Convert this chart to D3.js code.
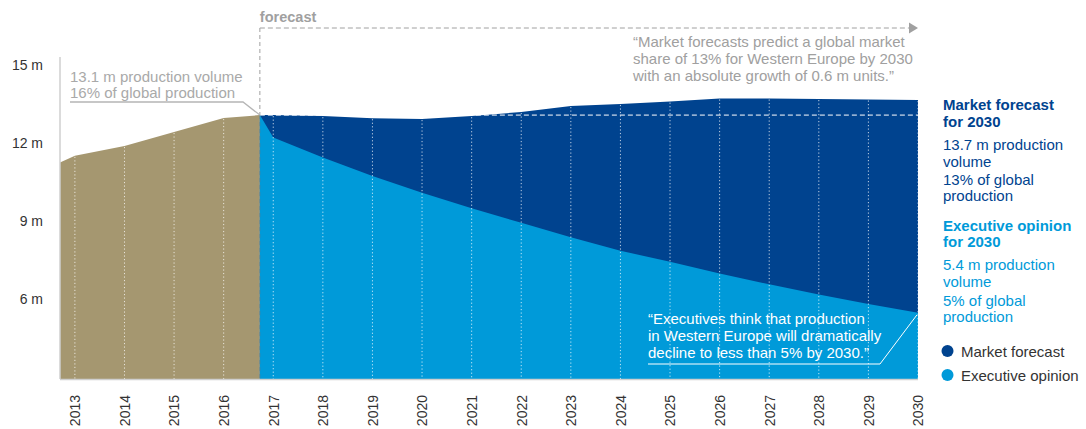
<!DOCTYPE html>
<html>
<head>
<meta charset="utf-8">
<script src="https://cdn.jsdelivr.net/npm/d3@7"></script>
<style>
  html, body { margin: 0; padding: 0; background: #fff; }
  svg { display: block; font-family: "Liberation Sans", Arial, sans-serif; }
</style>
</head>
<body>
<svg id="chart" width="1086" height="429"></svg>
<script>
// ---------- data ----------
const historyYears  = [2012.7, 2013, 2014, 2015, 2016, 2016.73];
const historyValues = [11.24, 11.5, 11.88, 12.42, 12.96, 13.07];

const forecastYears = [2016.73, 2017, 2018, 2019, 2020, 2021, 2022, 2023, 2024, 2025, 2026, 2027, 2028, 2029, 2030];
const marketValues  = [13.07, 13.07, 13.03, 12.95, 12.92, 13.03, 13.19, 13.42, 13.5, 13.59, 13.71, 13.71, 13.69, 13.67, 13.65];
const execValues    = [13.07, 12.21, 11.44, 10.72, 10.08, 9.48, 8.92, 8.36, 7.84, 7.42, 6.97, 6.55, 6.16, 5.79, 5.45];

const baseLevel = 13.07;          // 2016 level (13.1 m), dashed reference
const yearTicks = d3.range(2013, 2031);
const yTicks = [6, 9, 12, 15];

const topQuote = ["\u201CMarket forecasts predict a global market",
                  "share of 13% for Western Europe by 2030",
                  "with an absolute growth of 0.6 m units.\u201D"];
const execQuote = ["\u201CExecutives think that production",
                   "in Western Europe will dramatically",
                   "decline to less than 5% by 2030.\u201D"];
const histNote = ["13.1 m production volume", "16% of global production"];
const marketNote = ["13.7 m production", "volume", "13% of global", "production"];
const execNote = ["5.4 m production", "volume", "5% of global", "production"];
const legendItems = ["Market forecast", "Executive opinion"];

// ---------- styles ----------
const C = {
  brown: "#a59770",
  dark: "#00438f",
  light: "#009ad9",
  gray: "#a0a0a0",
  axis: "#cfcfcf",
  text: "#333333"
};

const svg = d3.select("#chart");
const x = d3.scaleLinear().domain([2012.7, 2030]).range([60, 918]);
const y = d3.scaleLinear().domain([2.9, 15]).range([379, 65]);
const y0 = y.range()[0];

const hist = historyYears.map((t, i) => ({t, v: historyValues[i]}));
const market = forecastYears.map((t, i) => ({t, v: marketValues[i]}));
const exec = forecastYears.map((t, i) => ({t, v: execValues[i]}));

const area = d3.area().x(d => x(d.t)).y0(y0).y1(d => y(d.v));

svg.append("path").datum(hist).attr("d", area).attr("fill", C.brown);
svg.append("path").datum(market).attr("d", area).attr("fill", C.dark);
svg.append("path").datum(exec).attr("d", area).attr("fill", C.light);

// dotted year gridlines, clipped to the area top
const topAt = t => {
  const h = hist.find(d => d.t === t);
  if (h) return h.v;
  const m = market.find(d => d.t === t);
  return m ? m.v : null;
};
svg.append("g").selectAll("line").data(yearTicks).join("line")
  .attr("x1", d => x(d)).attr("x2", d => x(d))
  .attr("y1", d => y(topAt(d)) + 1).attr("y2", y0)
  .attr("stroke", "#fff").attr("stroke-opacity", 0.75)
  .attr("stroke-width", 1).attr("stroke-dasharray", "1.2,2.3");

// white dashed reference line at the 2016 level
svg.append("line")
  .attr("x1", x(forecastYears[0])).attr("x2", x(2030))
  .attr("y1", y(baseLevel)).attr("y2", y(baseLevel))
  .attr("stroke", "#fff").attr("stroke-width", 1).attr("stroke-dasharray", "5,3");

// axis lines
svg.append("line").attr("x1", 60).attr("x2", 60).attr("y1", 57).attr("y2", y0)
  .attr("stroke", C.axis).attr("stroke-width", 1.5);
svg.append("line").attr("x1", 60).attr("x2", x(2030)).attr("y1", y0 + 0.5).attr("y2", y0 + 0.5)
  .attr("stroke", C.axis).attr("stroke-width", 1.5);

// forecast divider + arrow
const fx = x(forecastYears[0]);
svg.append("line").attr("x1", fx).attr("x2", fx).attr("y1", 28).attr("y2", y(baseLevel))
  .attr("stroke", C.gray).attr("stroke-width", 1).attr("stroke-dasharray", "4,3");
svg.append("line").attr("x1", fx).attr("x2", fx).attr("y1", y(baseLevel)).attr("y2", y0)
  .attr("stroke", "#5b7d90").attr("stroke-opacity", 0.6).attr("stroke-width", 1).attr("stroke-dasharray", "4,3");
svg.append("line").attr("x1", fx).attr("x2", 910).attr("y1", 28).attr("y2", 28)
  .attr("stroke", C.gray).attr("stroke-width", 1).attr("stroke-dasharray", "5,3");
svg.append("path").attr("d", "M909,22.5 L918,28 L909,33.5 Z").attr("fill", C.gray);
svg.append("text").attr("x", fx).attr("y", 22).attr("font-size", 14.5).attr("font-weight", "bold")
  .attr("fill", C.gray).text("forecast");

// y axis
const yAxis = svg.append("g").attr("transform", "translate(60,0)")
  .call(d3.axisLeft(y).tickValues(yTicks).tickFormat(d => d + " m").tickSize(0).tickPadding(17));
yAxis.select(".domain").remove();
yAxis.selectAll("text").attr("font-size", 14).attr("fill", C.text)
  .attr("font-family", "'Liberation Sans', Arial, sans-serif");

// x axis
const xAxis = svg.append("g").attr("transform", `translate(0,${y0})`)
  .call(d3.axisBottom(x).tickValues(yearTicks).tickFormat(d3.format("d")).tickSize(0));
xAxis.select(".domain").remove();
xAxis.selectAll("text")
  .attr("font-size", 14).attr("fill", C.text)
  .attr("font-family", "'Liberation Sans', Arial, sans-serif")
  .attr("text-anchor", "end")
  .attr("transform", "translate(0,16) rotate(-90)")
  .attr("x", 0).attr("y", 0).attr("dy", "0.35em");

// historical note
const note = svg.append("g").attr("font-size", 15).attr("fill", "#a9a9a9");
histNote.forEach((t, i) => note.append("text").attr("x", 70).attr("y", 81.5 + i * 16).text(t));
svg.append("polyline").attr("points", `70,102 243,102 ${fx},${y(baseLevel)}`)
  .attr("fill", "none").attr("stroke", "#b5b5b5").attr("stroke-width", 1.3);

// top quote
const tq = svg.append("g").attr("font-size", 15).attr("fill", C.gray);
topQuote.forEach((t, i) => tq.append("text").attr("x", 633).attr("y", 46.5 + i * 17).text(t));

// executive quote
const eq = svg.append("g").attr("font-size", 15).attr("fill", "#fff");
execQuote.forEach((t, i) => eq.append("text").attr("x", 648).attr("y", 324 + i * 16.8).text(t));
svg.append("polyline").attr("points", `648,364 880,364 ${x(2030) - 1},${y(execValues[execValues.length - 1]) + 2}`)
  .attr("fill", "none").attr("stroke", "#fff").attr("stroke-width", 1);

// right-hand notes
const rn = svg.append("g").attr("font-size", 15);
rn.append("text").attr("x", 943).attr("y", 110).attr("font-weight", "bold").attr("fill", C.dark).text("Market forecast");
rn.append("text").attr("x", 943).attr("y", 126.5).attr("font-weight", "bold").attr("fill", C.dark).text("for 2030");
[150, 166.5, 185, 201].forEach((yy, i) =>
  rn.append("text").attr("x", 943).attr("y", yy).attr("fill", C.dark).text(marketNote[i]));
rn.append("text").attr("x", 943).attr("y", 231).attr("font-weight", "bold").attr("fill", C.light).text("Executive opinion");
rn.append("text").attr("x", 943).attr("y", 247).attr("font-weight", "bold").attr("fill", C.light).text("for 2030");
[270, 286.5, 305.5, 321.5].forEach((yy, i) =>
  rn.append("text").attr("x", 943).attr("y", yy).attr("fill", C.light).text(execNote[i]));

// legend
const lg = svg.append("g");
[C.dark, C.light].forEach((c, i) => {
  lg.append("circle").attr("cx", 947.5).attr("cy", 351 + i * 24).attr("r", 6).attr("fill", c);
  lg.append("text").attr("x", 961).attr("y", 356.5 + i * 24).attr("font-size", 15).attr("fill", C.text).text(legendItems[i]);
});
</script>
</body>
</html>
